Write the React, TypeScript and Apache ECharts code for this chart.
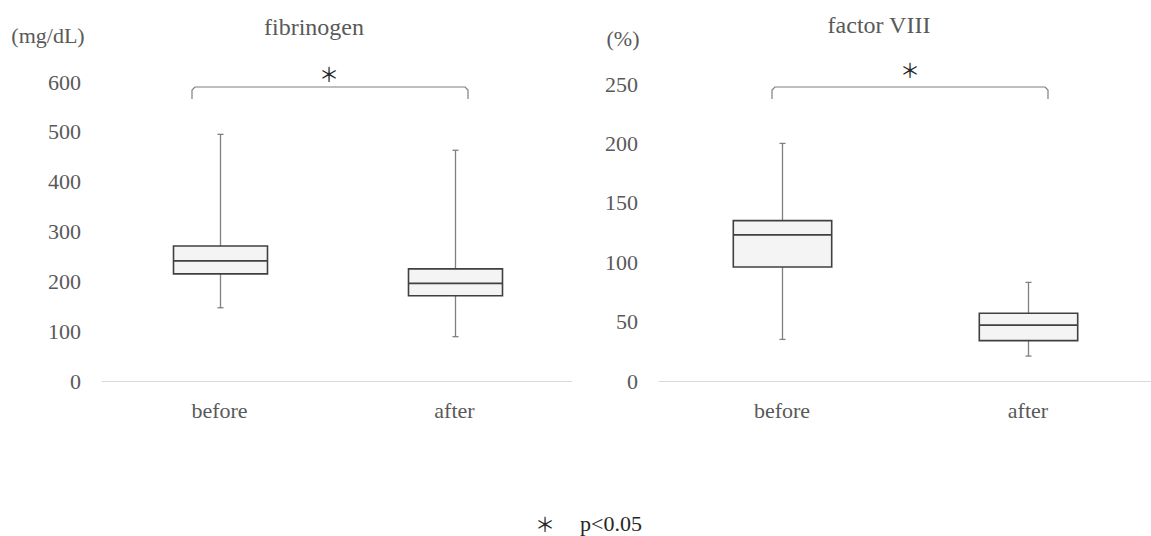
import React, { useEffect, useRef } from "react";
import * as echarts from "echarts";

const categories = ["before", "after"];
// [min, Q1, median, Q3, max]
const fibrinogen = [
  [147, 215, 241, 271, 495],
  [89, 171, 196, 225, 463],
];
const factorVIII = [
  [35, 96, 123, 135, 200],
  [21, 34, 47, 57, 83],
];
const fibTicks = { min: 0, max: 600, interval: 100 };
const f8Ticks = { min: 0, max: 250, interval: 50 };

const FONT = "'Liberation Serif', 'Times New Roman', serif";
const GRAY = "#595959";

function renderBox(params: any, api: any) {
  const x = api.value(0);
  const mn = api.coord([x, api.value(1)]);
  const q1 = api.coord([x, api.value(2)]);
  const md = api.coord([x, api.value(3)]);
  const q3 = api.coord([x, api.value(4)]);
  const mx = api.coord([x, api.value(5)]);
  const band = api.size([1, 0])[0];
  const hw = band * 0.2;
  const cx = Math.round(mn[0]) + 0.5;
  const whisker = { stroke: "#808080", lineWidth: 1.3 };
  const boxStroke = "#404040";
  return {
    type: "group",
    children: [
      { type: "line", shape: { x1: cx, y1: mx[1], x2: cx, y2: q3[1] }, style: whisker },
      { type: "line", shape: { x1: cx, y1: q1[1], x2: cx, y2: mn[1] }, style: whisker },
      { type: "line", shape: { x1: cx - 3, y1: mx[1], x2: cx + 3, y2: mx[1] }, style: whisker },
      { type: "line", shape: { x1: cx - 3, y1: mn[1], x2: cx + 3, y2: mn[1] }, style: whisker },
      {
        type: "rect",
        shape: { x: cx - hw, y: q3[1], width: hw * 2, height: q1[1] - q3[1] },
        style: { fill: "#f4f4f4", stroke: boxStroke, lineWidth: 1.6 },
      },
      {
        type: "line",
        shape: { x1: cx - hw, y1: md[1], x2: cx + hw, y2: md[1] },
        style: { stroke: boxStroke, lineWidth: 1.6 },
      },
    ],
  };
}

function bracket(x1: number, x2: number, y: number, yb: number) {
  return {
    type: "polyline",
    shape: {
      points: [
        [x1, yb],
        [x1, y + 3],
        [x1 + 3, y],
        [x2 - 3, y],
        [x2, y + 3],
        [x2, yb],
      ],
    },
    style: { stroke: "#7f7f7f", lineWidth: 1.2, fill: "none" },
  };
}

function txt(
  text: string,
  x: number,
  y: number,
  size: number,
  color = GRAY,
  align = "center",
  family = FONT,
  lineHeight = size
) {
  return {
    type: "text",
    x,
    y,
    style: {
      text,
      fontFamily: family,
      fontSize: size,
      lineHeight,
      fill: color,
      align,
      verticalAlign: "middle",
    },
  };
}

const STAR_FONT = "'Noto Sans CJK JP', 'DejaVu Sans', sans-serif";

export default function App() {
  const ref = useRef<HTMLDivElement>(null);
  useEffect(() => {
    document.body.style.margin = "0";
    const chart = echarts.init(ref.current!, null, { renderer: "svg" });
    const axisLabel = { fontFamily: FONT, fontSize: 22, color: GRAY };
    const xAxisCommon = {
      type: "category",
      data: categories,
      axisTick: { show: false },
      axisLine: { show: true, lineStyle: { color: "#d9d9d9", width: 1 } },
      axisLabel: { ...axisLabel, margin: 18 },
    };
    const yAxisCommon = {
      type: "value",
      splitLine: { show: false },
      axisLine: { show: false },
      axisTick: { show: false },
      axisLabel: { ...axisLabel, margin: 21 },
    };
    chart.setOption({
      animation: false,
      backgroundColor: "#ffffff",
      grid: [
        { left: 102, top: 82, width: 470, height: 299 },
        { left: 659, top: 84, width: 504, height: 297 },
      ],
      xAxis: [
        { ...xAxisCommon, gridIndex: 0 },
        { ...xAxisCommon, gridIndex: 1 },
      ],
      yAxis: [
        { ...yAxisCommon, gridIndex: 0, ...fibTicks },
        { ...yAxisCommon, gridIndex: 1, ...f8Ticks },
      ],
      series: [
        {
          name: "fibrinogen",
          type: "custom",
          xAxisIndex: 0,
          yAxisIndex: 0,
          renderItem: renderBox,
          encode: { x: 0, y: [1, 2, 3, 4, 5] },
          data: fibrinogen.map((d, i) => [i, ...d]),
        },
        {
          name: "factor VIII",
          type: "custom",
          xAxisIndex: 1,
          yAxisIndex: 1,
          renderItem: renderBox,
          encode: { x: 0, y: [1, 2, 3, 4, 5] },
          data: factorVIII.map((d, i) => [i, ...d]),
        },
      ],
      graphic: [
        txt("fibrinogen", 314, 27, 24),
        txt("factor VIII", 879, 25, 24),
        txt("(mg/dL)", 48, 35, 22),
        txt("(%)", 623, 38, 22),
        bracket(192, 468, 87, 99),
        bracket(772, 1048, 87, 99),
        txt("＊", 329, 73, 20, "#262626", "center", STAR_FONT),
        txt("＊", 910, 69, 20, "#262626", "center", STAR_FONT),
        txt("＊", 545, 523, 20, "#262626", "center", STAR_FONT, 14),
        txt("p<0.05", 580, 523, 22, "#262626", "left"),
      ],
    });
    return () => chart.dispose();
  }, []);
  return (
    <div
      ref={ref}
      style={{ position: "absolute", left: 0, top: 0, width: 1151, height: 536 }}
    />
  );
}
